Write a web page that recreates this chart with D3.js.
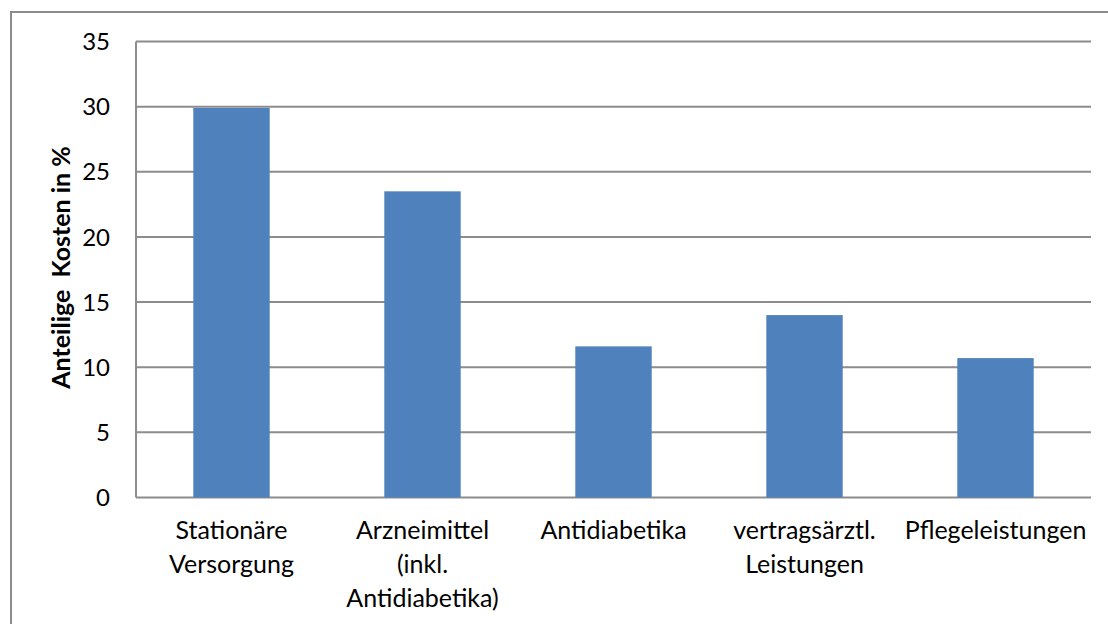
<!DOCTYPE html>
<html>
<head>
<meta charset="utf-8">
<script src="https://cdn.jsdelivr.net/npm/d3@7"></script>
<style>
  body { margin: 0; background: #fff; }
  text { font-family: Lato, "Open Sans", sans-serif; fill: #000; }
</style>
</head>
<body>
<script>
var categories = [
  ["Stationäre", "Versorgung"],
  ["Arzneimittel", "(inkl.", "Antidiabetika)"],
  ["Antidiabetika"],
  ["vertragsärztl.", "Leistungen"],
  ["Pflegeleistungen"]
];
var values = [29.9, 23.5, 11.6, 14.0, 10.7];
var yTicks = [0, 5, 10, 15, 20, 25, 30, 35];
var yTitle = "Anteilige  Kosten in %";

var W = 1108, H = 624;
var plot = { left: 136, right: 1091, top: 41.5, bottom: 497.5 };

var svg = d3.select("body").append("svg")
  .attr("width", W)
  .attr("height", H);

// outer chart border (runs off the right/bottom edge)
svg.append("rect")
  .attr("x", 11)
  .attr("y", 12)
  .attr("width", W + 20)
  .attr("height", H + 20)
  .attr("fill", "#fff")
  .attr("stroke", "#8c8c8c")
  .attr("stroke-width", 2);

var x = d3.scaleBand()
  .domain(d3.range(categories.length))
  .range([plot.left, plot.right])
  .paddingInner(0.6)
  .paddingOuter(0.3);

var y = d3.scaleLinear()
  .domain([0, 35])
  .range([plot.bottom, plot.top]);

// gridlines
svg.selectAll("line.grid")
  .data(yTicks)
  .enter()
  .append("line")
  .attr("class", "grid")
  .attr("x1", plot.left)
  .attr("x2", plot.right)
  .attr("y1", function(d) { return y(d); })
  .attr("y2", function(d) { return y(d); })
  .attr("stroke", "#8c8c8c")
  .attr("stroke-width", 2);

// left axis line
svg.append("line")
  .attr("x1", plot.left).attr("x2", plot.left)
  .attr("y1", plot.top).attr("y2", plot.bottom)
  .attr("stroke", "#8c8c8c")
  .attr("stroke-width", 2);

// bars
svg.selectAll("rect.bar")
  .data(values)
  .enter()
  .append("rect")
  .attr("class", "bar")
  .attr("x", function(d, i) { return x(i); })
  .attr("width", x.bandwidth())
  .attr("y", function(d) { return y(d); })
  .attr("height", function(d) { return y(0) - y(d); })
  .attr("fill", "#4f81bd");

// y tick labels
svg.selectAll("text.ytick")
  .data(yTicks)
  .enter()
  .append("text")
  .attr("class", "ytick")
  .attr("x", 110)
  .attr("y", function(d) { return y(d); })
  .attr("dy", "0.36em")
  .attr("text-anchor", "end")
  .style("font-size", "24px")
  .text(function(d) { return d; });

// x category labels
var lab = svg.selectAll("text.xlab")
  .data(categories)
  .enter()
  .append("text")
  .attr("class", "xlab")
  .attr("text-anchor", "middle")
  .style("font-size", "25px")
  .attr("transform", function(d, i) {
    return "translate(" + (x(i) + x.bandwidth() / 2) + ",539)";
  });

lab.selectAll("tspan")
  .data(function(d) { return d; })
  .enter()
  .append("tspan")
  .attr("x", 0)
  .attr("y", function(d, j) { return j * 34; })
  .text(function(d) { return d; });

// y axis title
svg.append("text")
  .attr("transform", "translate(70," + ((plot.top + plot.bottom) / 2 - 2) + ") rotate(-90)")
  .attr("text-anchor", "middle")
  .style("font-size", "25px")
  .style("font-weight", "bold")
  .style("white-space", "pre")
  .text(yTitle);
</script>
</body>
</html>
